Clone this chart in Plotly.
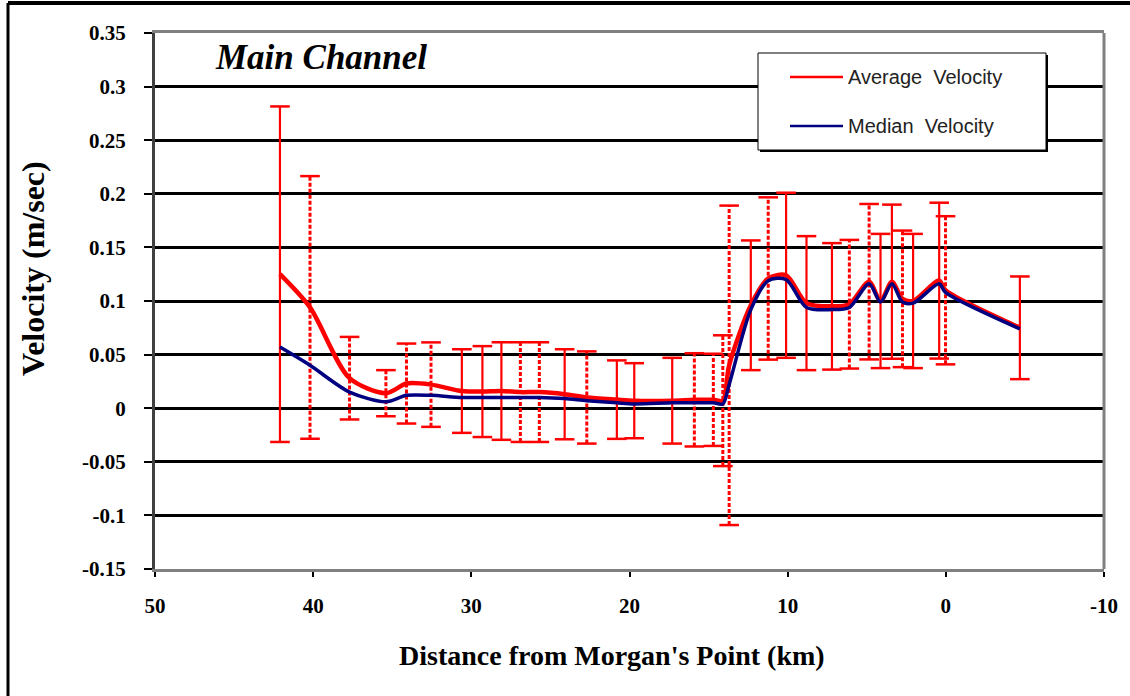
import plotly.graph_objects as go

# ---------------- data ----------------
distance_km = [42.1, 40.2, 37.7, 35.4, 34.1, 32.55, 30.6, 29.3, 28.1, 26.9, 25.7, 24.1,
               22.7, 20.8, 19.7, 17.3, 15.9, 14.7, 14.1, 13.7, 12.33, 11.23, 10.1, 8.81,
               7.2, 6.1, 4.85, 4.13, 3.41, 2.74, 2.07, 0.42, 0.02, -4.68]
average_velocity = [0.125, 0.094, 0.028, 0.014, 0.023, 0.022, 0.016, 0.0155, 0.016, 0.015,
                    0.015, 0.013, 0.010, 0.008, 0.007, 0.007, 0.0078, 0.0078, 0.007, 0.040,
                    0.096, 0.121, 0.124, 0.098, 0.095, 0.097, 0.118, 0.100, 0.118, 0.102,
                    0.100, 0.119, 0.110, 0.075]
median_velocity = [0.057, 0.040, 0.015, 0.006, 0.012, 0.012, 0.010, 0.010, 0.010, 0.010,
                   0.010, 0.009, 0.007, 0.005, 0.004, 0.005, 0.005, 0.005, 0.004, 0.022,
                   0.092, 0.119, 0.120, 0.094, 0.092, 0.094, 0.116, 0.099, 0.116, 0.099,
                   0.098, 0.116, 0.108, 0.074]
velocity_error = [0.1565, 0.1225, 0.0385, 0.0215, 0.0373, 0.0394, 0.039, 0.0424, 0.0455, 0.0465,
                  0.0465, 0.042, 0.043, 0.0366, 0.035, 0.040, 0.0435, 0.043, 0.061, 0.149,
                  0.0605, 0.0757, 0.077, 0.0625, 0.059, 0.060, 0.0725, 0.0626, 0.0719, 0.0637,
                  0.0626, 0.0727, 0.0691, 0.0479]
# survey group of each station: "A" -> solid error bar, "B" -> dotted error bar
survey_group = ["A", "B", "B", "B", "B", "B", "A", "A", "A", "B", "B", "A",
                "B", "A", "A", "A", "B", "B", "B", "B", "A", "B", "A", "A",
                "A", "B", "B", "A", "A", "B", "A", "A", "B", "A"]
series_names = ["Average  Velocity", "Median  Velocity"]

x_tick_vals = [50, 40, 30, 20, 10, 0, -10]
x_tick_text = ["50", "40", "30", "20", "10", "0", "-10"]
y_tick_vals = [-0.15, -0.1, -0.05, 0, 0.05, 0.1, 0.15, 0.2, 0.25, 0.3, 0.35]
y_tick_text = ["-0.15", "-0.1", "-0.05", "0", "0.05", "0.1", "0.15", "0.2", "0.25", "0.3", "0.35"]

# ---------------- figure ----------------
W, H = 1130, 696
ML, MR, MT, MB = 155, 26, 33, 127
PW, PH = W - ML - MR, H - MT - MB

def px_to_paper_x(px):
    return (px - ML) / PW

def px_to_paper_y(py):
    return (H - MB - py) / PH

RED = "#ff0000"
NAVY = "#000080"
serif = "Liberation Serif, Times New Roman, serif"
sans = "Liberation Sans, Arial, sans-serif"

fig = go.Figure()

# error bars (vertical parts), one trace per group
for grp, dash, wd in (("A", "solid", 2.2), ("B", "4px,2px", 3)):
    xs, ys = [], []
    for xv, av, ev, g in zip(distance_km, average_velocity, velocity_error, survey_group):
        if g == grp:
            xs += [xv, xv, None]
            ys += [av - ev, av + ev, None]
    fig.add_trace(go.Scatter(x=xs, y=ys, mode="lines",
                             line=dict(color=RED, width=wd, dash=dash),
                             showlegend=False, hoverinfo="skip"))

# error bar caps
cap_x = distance_km + distance_km
cap_y = [a - e for a, e in zip(average_velocity, velocity_error)] + \
        [a + e for a, e in zip(average_velocity, velocity_error)]
fig.add_trace(go.Scatter(x=cap_x, y=cap_y, mode="markers",
                         marker=dict(symbol="line-ew", size=14,
                                     line=dict(color=RED, width=2.5)),
                         showlegend=False, hoverinfo="skip"))

fig.add_trace(go.Scatter(x=distance_km, y=average_velocity, mode="lines",
                         name=series_names[0], showlegend=False,
                         line=dict(color=RED, width=4.5, shape="spline", smoothing=0.8)))
fig.add_trace(go.Scatter(x=distance_km, y=median_velocity, mode="lines",
                         name=series_names[1], showlegend=False,
                         line=dict(color=NAVY, width=3.5, shape="spline", smoothing=0.8)))

# legend box drawn as shapes + text
LX0, LX1, LY0, LY1 = 758, 1046, 53, 150
shapes = [
    # right border of the plot area
    dict(type="line", xref="paper", yref="paper", x0=1, x1=1, y0=0, y1=1,
         line=dict(color="#808080", width=3)),
    # outer frame (top and left)
    dict(type="line", xref="paper", yref="paper",
         x0=px_to_paper_x(8), x1=px_to_paper_x(1135), y0=px_to_paper_y(3), y1=px_to_paper_y(3),
         line=dict(color="black", width=4)),
    dict(type="line", xref="paper", yref="paper",
         x0=px_to_paper_x(8), x1=px_to_paper_x(8), y0=px_to_paper_y(3), y1=px_to_paper_y(700),
         line=dict(color="black", width=3)),
    # legend shadow and box
    dict(type="rect", xref="paper", yref="paper", layer="above",
         x0=px_to_paper_x(LX0 + 2), x1=px_to_paper_x(LX1 + 2),
         y0=px_to_paper_y(LY1 + 2), y1=px_to_paper_y(LY0 + 2),
         fillcolor="black", line=dict(width=0)),
    dict(type="rect", xref="paper", yref="paper", layer="above",
         x0=px_to_paper_x(LX0), x1=px_to_paper_x(LX1),
         y0=px_to_paper_y(LY1), y1=px_to_paper_y(LY0),
         fillcolor="white", line=dict(color="black", width=1)),
]
annotations = []
for name, col, ly in ((series_names[0], RED, 77), (series_names[1], NAVY, 126)):
    shapes.append(dict(type="line", xref="paper", yref="paper", layer="above",
                       x0=px_to_paper_x(790), x1=px_to_paper_x(843),
                       y0=px_to_paper_y(ly), y1=px_to_paper_y(ly),
                       line=dict(color=col, width=2.5)))
    annotations.append(dict(text=name, xref="paper", yref="paper",
                            x=px_to_paper_x(846), y=px_to_paper_y(ly),
                            xanchor="left", yanchor="middle", showarrow=False,
                            font=dict(family=sans, size=20, color="#222222")))

annotations += [
    dict(text="<b><i>Main Channel</i></b>", xref="paper", yref="paper",
         x=px_to_paper_x(321), y=px_to_paper_y(57), xanchor="center", yanchor="middle",
         showarrow=False, font=dict(family=serif, size=35, color="black")),
    dict(text="<b>Distance from Morgan's Point (km)</b>", xref="paper", yref="paper",
         x=px_to_paper_x(612), y=px_to_paper_y(655), xanchor="center", yanchor="middle",
         showarrow=False, font=dict(family=serif, size=28, color="black")),
    dict(text="<b>Velocity (m/sec)</b>", xref="paper", yref="paper", textangle=-90,
         x=px_to_paper_x(33), y=px_to_paper_y(268), xanchor="center", yanchor="middle",
         showarrow=False, font=dict(family=serif, size=32, color="black")),
]

fig.update_layout(
    width=W, height=H,
    margin=dict(l=ML, r=MR, t=MT, b=MB, autoexpand=False),
    paper_bgcolor="white", plot_bgcolor="white",
    showlegend=False,
    xaxis=dict(range=[50, -10], tickvals=x_tick_vals, ticktext=x_tick_text,
               showgrid=False, zeroline=False,
               showline=True, linecolor="#808080", linewidth=3, mirror=True,
               ticks="outside", ticklen=5, tickwidth=2, tickcolor="black",
               ticklabelstandoff=11,
               tickfont=dict(family=serif, size=21, color="black", weight="bold")),
    yaxis=dict(range=[-0.15, 0.35], tickvals=y_tick_vals, ticktext=y_tick_text,
               showgrid=True, gridcolor="black", gridwidth=2.5,
               zeroline=True, zerolinecolor="black", zerolinewidth=2.5,
               showline=True, linecolor="#404040", linewidth=3, mirror=False,
               ticks="outside", ticklen=8, tickwidth=2, tickcolor="black",
               ticklabelstandoff=14,
               tickfont=dict(family=serif, size=21, color="black", weight="bold")),
    shapes=shapes,
    annotations=annotations,
)

fig.write_html("out.html", config={"displayModeBar": False},
               post_script="document.body.style.margin='0';")
